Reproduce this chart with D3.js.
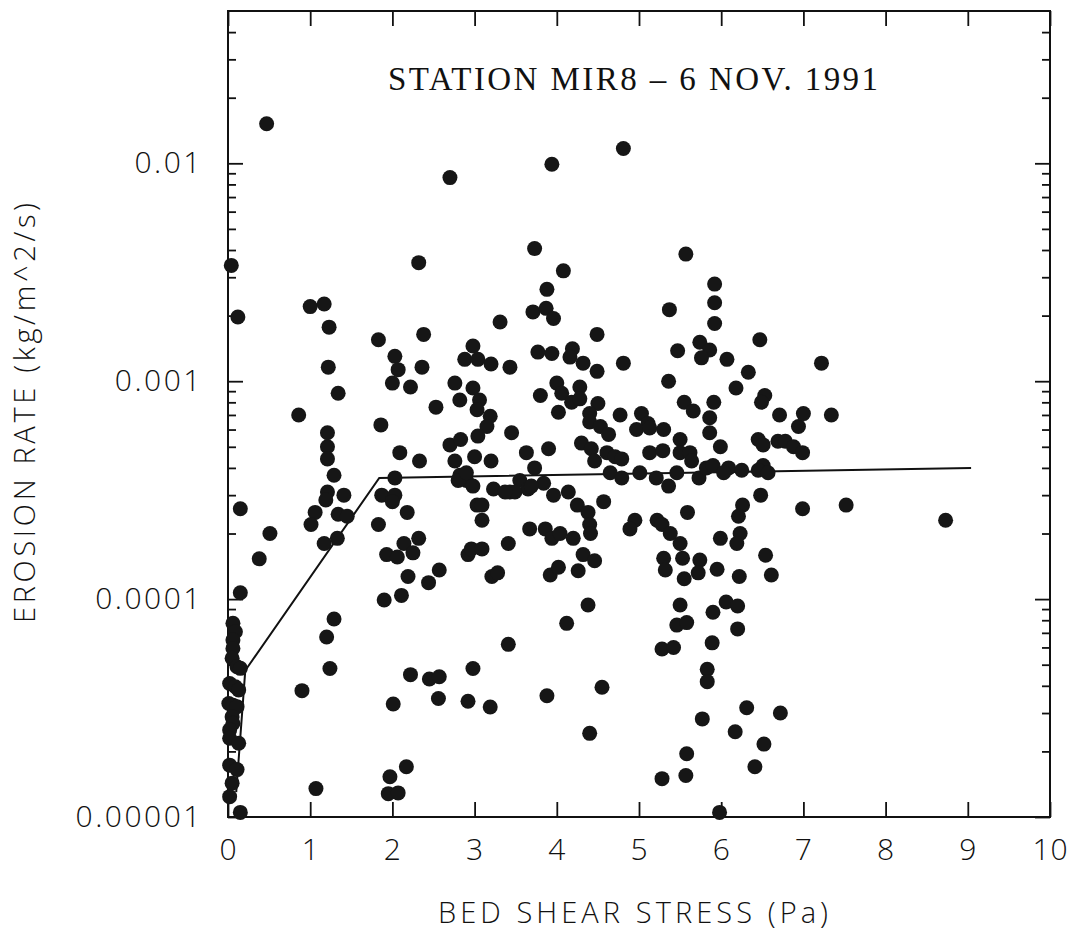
<!DOCTYPE html>
<html>
<head>
<meta charset="utf-8">
<script src="https://cdn.jsdelivr.net/npm/d3@7"></script>
<style>
body { margin: 0; background: #fff; }
.lbl { font-family: "Open Sans", "DejaVu Sans", sans-serif; font-weight: 300; fill: #111; }
</style>
</head>
<body>
<div id="chart"></div>
<script>
(function() {
// bed shear stress (Pa)
var stress = [
  0.47, 2.70, 0.04, 2.32, 0.12, 1.00, 1.17, 1.23, 1.83, 2.38,
  3.31, 1.22, 2.03, 2.07, 2.36, 2.98, 2.88, 3.04, 3.20, 1.34,
  2.00, 2.22, 2.76, 2.98, 2.82, 3.06, 3.03, 2.53, 0.86, 3.19,
  3.15, 1.86, 1.21, 1.21, 1.21, 1.29, 1.21, 1.19, 1.41, 1.34,
  1.45, 1.06, 1.01, 1.17, 1.33, 2.09, 2.33, 2.70, 2.83, 3.04,
  3.00, 2.76, 3.20, 2.03, 1.87, 2.03, 2.00, 2.18, 1.83, 2.82,
  2.90, 2.98, 2.80, 2.90, 3.23, 3.03, 3.09, 3.09, 2.92, 2.96,
  3.09, 3.21, 3.28, 0.15, 0.51, 0.38, 0.15, 1.93, 2.06, 2.14,
  2.25, 2.32, 2.19, 2.44, 2.57, 1.90, 2.11, 1.29, 1.20, 1.24,
  0.90, 2.22, 2.45, 2.57, 2.98, 2.01, 2.56, 2.92, 3.19, 2.17,
  1.97, 1.95, 2.07, 1.07, 0.15, 0.06, 0.09, 0.06, 0.06, 0.05,
  0.11, 0.15, 0.02, 0.09, 0.13, 0.01, 0.06, 0.11, 0.05, 0.06,
  0.02, 0.02, 0.13, 0.02, 0.11, 0.05, 0.02, 3.94, 4.81, 3.73,
  5.57, 4.08, 3.88, 3.71, 3.87, 3.96, 4.49, 5.37, 5.92, 5.92,
  5.92, 6.47, 3.77, 3.94, 4.19, 4.16, 4.32, 4.49, 3.43, 4.81,
  5.47, 5.74, 5.86, 5.76, 6.07, 6.33, 5.36, 6.18, 6.53, 6.49,
  3.80, 4.00, 4.06, 4.28, 4.18, 4.28, 4.02, 4.50, 4.40, 4.77,
  5.03, 5.55, 5.66, 5.86, 5.91, 6.71, 4.40, 4.53, 4.63, 5.11,
  4.97, 5.13, 5.30, 5.86, 5.99, 5.50, 5.50, 5.62, 5.64, 6.45,
  6.51, 6.69, 3.45, 3.63, 3.90, 4.30, 4.42, 4.46, 4.61, 4.71,
  4.79, 5.13, 5.29, 3.73, 4.65, 4.79, 5.01, 5.21, 5.36, 5.46,
  5.73, 5.82, 5.90, 6.09, 6.25, 6.03, 6.51, 6.45, 6.57, 3.55,
  3.43, 3.65, 3.49, 3.84, 3.96, 4.14, 3.69, 3.37, 4.25, 4.38,
  4.40, 4.41, 4.57, 4.95, 4.89, 5.22, 5.28, 5.38, 5.50, 5.59,
  6.26, 6.21, 6.23, 6.19, 5.99, 6.48, 3.67, 3.86, 3.94, 4.04,
  4.20, 3.41, 4.32, 4.46, 4.26, 3.92, 4.02, 5.30, 5.32, 5.53,
  5.74, 5.72, 5.55, 5.95, 6.22, 6.54, 6.61, 4.38, 4.12, 3.41,
  5.50, 5.46, 5.58, 5.90, 6.06, 6.20, 6.20, 5.89, 5.28, 5.42,
  5.83, 5.83, 4.55, 3.88, 4.40, 6.31, 6.72, 5.77, 6.17, 6.52,
  5.58, 6.41, 5.28, 5.57, 5.98, 6.94, 6.78, 6.88, 6.99, 6.99,
  7.52, 8.73, 7.00, 7.34, 7.22
];

// erosion rate (kg/m^2/s)
var erosion = [
  1.52e-2, 8.6e-3, 3.4e-3, 3.5e-3, 1.97e-3, 2.2e-3, 2.26e-3, 1.77e-3, 1.55e-3, 1.64e-3,
  1.87e-3, 1.16e-3, 1.3e-3, 1.13e-3, 1.16e-3, 1.45e-3, 1.26e-3, 1.26e-3, 1.2e-3, 8.8e-4,
  9.8e-4, 9.4e-4, 9.8e-4, 9.3e-4, 8.2e-4, 8.2e-4, 7.4e-4, 7.6e-4, 7.0e-4, 6.9e-4,
  6.2e-4, 6.3e-4, 5.8e-4, 5.0e-4, 4.4e-4, 3.7e-4, 3.1e-4, 2.85e-4, 3.0e-4, 2.45e-4,
  2.4e-4, 2.5e-4, 2.2e-4, 1.8e-4, 1.9e-4, 4.7e-4, 4.3e-4, 5.1e-4, 5.4e-4, 5.6e-4,
  4.5e-4, 4.3e-4, 4.3e-4, 3.6e-4, 3.0e-4, 3.0e-4, 2.8e-4, 2.5e-4, 2.2e-4, 3.7e-4,
  3.5e-4, 3.3e-4, 3.5e-4, 3.8e-4, 3.2e-4, 2.7e-4, 2.7e-4, 2.3e-4, 1.6e-4, 1.7e-4,
  1.7e-4, 1.27e-4, 1.32e-4, 2.6e-4, 2.0e-4, 1.53e-4, 1.07e-4, 1.6e-4, 1.56e-4, 1.8e-4,
  1.63e-4, 1.9e-4, 1.27e-4, 1.19e-4, 1.36e-4, 9.9e-5, 1.04e-4, 8.1e-5, 6.7e-5, 4.8e-5,
  3.8e-5, 4.5e-5, 4.3e-5, 4.4e-5, 4.8e-5, 3.3e-5, 3.5e-5, 3.4e-5, 3.2e-5, 1.7e-5,
  1.53e-5, 1.28e-5, 1.29e-5, 1.35e-5, 1.05e-5, 7.74e-5, 7.08e-5, 6.49e-5, 5.94e-5, 5.35e-5,
  4.89e-5, 4.81e-5, 4.1e-5, 3.96e-5, 3.83e-5, 3.32e-5, 3.26e-5, 3.21e-5, 2.88e-5, 2.69e-5,
  2.51e-5, 2.3e-5, 2.18e-5, 1.73e-5, 1.65e-5, 1.43e-5, 1.24e-5, 9.9e-3, 1.17e-2, 4.06e-3,
  3.83e-3, 3.21e-3, 2.64e-3, 2.08e-3, 2.16e-3, 1.94e-3, 1.64e-3, 2.13e-3, 2.79e-3, 2.29e-3,
  1.84e-3, 1.55e-3, 1.36e-3, 1.34e-3, 1.41e-3, 1.29e-3, 1.21e-3, 1.11e-3, 1.16e-3, 1.21e-3,
  1.38e-3, 1.51e-3, 1.39e-3, 1.28e-3, 1.26e-3, 1.1e-3, 1.0e-3, 9.3e-4, 8.6e-4, 8.0e-4,
  8.6e-4, 9.8e-4, 8.8e-4, 9.4e-4, 8.0e-4, 8.3e-4, 7.2e-4, 7.9e-4, 7.1e-4, 7.0e-4,
  7.1e-4, 8.0e-4, 7.3e-4, 6.8e-4, 8.0e-4, 7.0e-4, 6.5e-4, 6.2e-4, 5.7e-4, 6.4e-4,
  6.0e-4, 6.1e-4, 6.0e-4, 5.8e-4, 5.0e-4, 5.4e-4, 4.7e-4, 4.7e-4, 4.3e-4, 5.4e-4,
  5.1e-4, 5.3e-4, 5.8e-4, 4.7e-4, 4.9e-4, 5.2e-4, 4.9e-4, 4.3e-4, 4.7e-4, 4.5e-4,
  4.4e-4, 4.7e-4, 4.8e-4, 4.0e-4, 3.8e-4, 3.6e-4, 3.8e-4, 3.6e-4, 3.3e-4, 3.8e-4,
  3.6e-4, 4.0e-4, 4.1e-4, 4.0e-4, 3.9e-4, 3.8e-4, 4.1e-4, 3.9e-4, 3.8e-4, 3.5e-4,
  3.1e-4, 3.2e-4, 3.1e-4, 3.4e-4, 3.0e-4, 3.1e-4, 3.3e-4, 3.1e-4, 2.7e-4, 2.5e-4,
  2.2e-4, 2.0e-4, 2.8e-4, 2.3e-4, 2.1e-4, 2.3e-4, 2.2e-4, 2.0e-4, 1.8e-4, 2.5e-4,
  2.7e-4, 2.4e-4, 2.0e-4, 1.8e-4, 1.9e-4, 3.0e-4, 2.1e-4, 2.1e-4, 1.9e-4, 2.0e-4,
  1.9e-4, 1.8e-4, 1.6e-4, 1.5e-4, 1.35e-4, 1.29e-4, 1.4e-4, 1.54e-4, 1.36e-4, 1.54e-4,
  1.51e-4, 1.32e-4, 1.24e-4, 1.37e-4, 1.27e-4, 1.59e-4, 1.29e-4, 9.4e-5, 7.74e-5, 6.2e-5,
  9.4e-5, 7.6e-5, 7.8e-5, 8.7e-5, 9.7e-5, 9.3e-5, 7.3e-5, 6.3e-5, 5.9e-5, 6.0e-5,
  4.76e-5, 4.18e-5, 3.94e-5, 3.6e-5, 2.42e-5, 3.17e-5, 3.0e-5, 2.82e-5, 2.46e-5, 2.16e-5,
  1.95e-5, 1.7e-5, 1.5e-5, 1.55e-5, 1.05e-5, 6.2e-4, 5.3e-4, 5.0e-4, 4.7e-4, 2.6e-4,
  2.7e-4, 2.3e-4, 7.1e-4, 7.0e-4, 1.21e-3
];

// fitted erosion law (broken line)
var fitStress = [0.10, 0.21, 1.84, 9.04];
var fitErosion = [1.3e-5, 4.7e-5, 3.6e-4, 4.0e-4];

var xTicks = [0, 1, 2, 3, 4, 5, 6, 7, 8, 9, 10];
var yMajor = [1e-5, 1e-4, 1e-3, 1e-2];
var yMajorText = ["0.00001", "0.0001", "0.001", "0.01"];

var width = 1069,
  height = 935;
var left = 228, right = 1050, top = 11, bottom = 817;

var svg = d3.select("#chart")
  .append("svg")
  .attr("width", width)
  .attr("height", height);

var x = d3.scaleLinear().domain([0, 10]).range([left, right]);
var y = d3.scaleLog().domain([1e-5, 0.05]).range([bottom, top]);

var yMinor = y.ticks().filter(function(d) {
  return yMajor.indexOf(d) < 0 && d < 0.05;
});

function styleAxis(g) {
  g.attr("font-size", null).attr("font-family", null);
  g.select(".domain").remove();
  g.selectAll(".tick line").attr("stroke", "#111").attr("stroke-width", 1.8);
}

// bottom axis with labels
svg.append("g")
  .attr("transform", "translate(0," + bottom + ")")
  .call(d3.axisBottom(x).tickValues(xTicks).tickSizeInner(-15).tickSizeOuter(0).tickPadding(22))
  .call(styleAxis)
  .selectAll("text")
  .attr("class", "lbl")
  .style("font-size", "30px")
  .style("letter-spacing", "1px");

// top axis
svg.append("g")
  .attr("transform", "translate(0," + top + ")")
  .call(d3.axisTop(x).tickValues(xTicks).tickSizeInner(-15).tickSizeOuter(0).tickFormat(""))
  .call(styleAxis);

// left axis, major with labels
svg.append("g")
  .attr("transform", "translate(" + left + ",0)")
  .call(d3.axisLeft(y).tickValues(yMajor).tickSizeInner(-15).tickSizeOuter(0).tickPadding(25)
    .tickFormat(function(d, i) { return yMajorText[i]; }))
  .call(styleAxis)
  .selectAll("text")
  .attr("class", "lbl")
  .style("font-size", "30px")
  .style("letter-spacing", "2.5px");

svg.append("g")
  .attr("transform", "translate(" + left + ",0)")
  .call(d3.axisLeft(y).tickValues(yMinor).tickSizeInner(-8).tickSizeOuter(0).tickFormat(""))
  .call(styleAxis);

// right axis
svg.append("g")
  .attr("transform", "translate(" + right + ",0)")
  .call(d3.axisRight(y).tickValues(yMajor).tickSizeInner(-15).tickSizeOuter(0).tickFormat(""))
  .call(styleAxis);

svg.append("g")
  .attr("transform", "translate(" + right + ",0)")
  .call(d3.axisRight(y).tickValues(yMinor).tickSizeInner(-8).tickSizeOuter(0).tickFormat(""))
  .call(styleAxis);

// frame
svg.append("rect")
  .attr("x", left)
  .attr("y", top)
  .attr("width", right - left)
  .attr("height", bottom - top)
  .attr("fill", "none")
  .attr("stroke", "#111")
  .attr("stroke-width", 2);

// fitted line
var fit = fitStress.map(function(d, i) { return [d, fitErosion[i]]; });
svg.append("path")
  .datum(fit)
  .attr("fill", "none")
  .attr("stroke", "#111")
  .attr("stroke-width", 2)
  .attr("d", d3.line()
    .x(function(d) { return x(d[0]); })
    .y(function(d) { return y(d[1]); }));

// data points
var points = stress.map(function(d, i) { return { s: d, e: erosion[i] }; });
svg.selectAll(".pt")
  .data(points)
  .enter().append("circle")
  .attr("class", "pt")
  .attr("cx", function(d) { return x(d.s); })
  .attr("cy", function(d) { return y(d.e); })
  .attr("r", 7.5)
  .attr("fill", "#161616");

// title
svg.append("text")
  .attr("x", 633)
  .attr("y", 90)
  .attr("text-anchor", "middle")
  .attr("textLength", 490)
  .attr("lengthAdjust", "spacing")
  .style("font-family", "'Liberation Serif', 'DejaVu Serif', serif")
  .style("font-size", "33px")
  .attr("fill", "#111")
  .text("STATION MIR8 \u2013 6 NOV. 1991");

// axis titles
svg.append("text")
  .attr("class", "lbl")
  .attr("x", 633)
  .attr("y", 923)
  .attr("text-anchor", "middle")
  .attr("textLength", 390)
  .attr("lengthAdjust", "spacing")
  .style("font-size", "29px")
  .text("BED SHEAR STRESS (Pa)");

svg.append("text")
  .attr("class", "lbl")
  .attr("transform", "translate(35,413) rotate(-90)")
  .attr("text-anchor", "middle")
  .attr("textLength", 420)
  .attr("lengthAdjust", "spacing")
  .style("font-size", "29px")
  .text("EROSION RATE (kg/m^2/s)");
})();
</script>
</body>
</html>
